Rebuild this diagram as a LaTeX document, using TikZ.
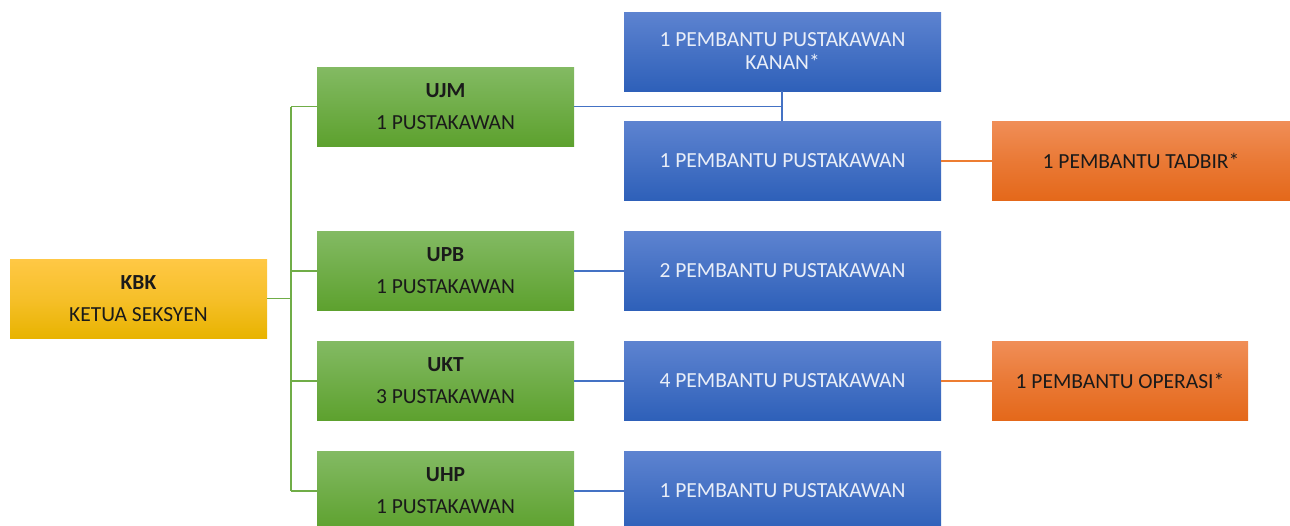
\documentclass[tikz,border=0pt]{standalone}
\usepackage{fontspec}
\setmainfont{Carlito}
\definecolor{gtop}{HTML}{83BA63}
\definecolor{gbot}{HTML}{5DA12E}
\definecolor{btop}{HTML}{5D83D0}
\definecolor{bbot}{HTML}{2E60B9}
\definecolor{otop}{HTML}{F08E57}
\definecolor{obot}{HTML}{E4681A}
\definecolor{ytop}{HTML}{FFC845}
\definecolor{ybot}{HTML}{E8B300}
\definecolor{gline}{HTML}{70AD47}
\definecolor{bline}{HTML}{4472C4}
\definecolor{oline}{HTML}{ED7D31}
\definecolor{dtext}{HTML}{1A1A1A}
\definecolor{ltext}{HTML}{E9EEF8}
\tikzset{
  box/.style={minimum width=257pt, minimum height=79pt, inner sep=0pt, align=center,
    font=\fontsize{21.5}{32}\selectfont},
  ybox/.style={box, top color=ytop, bottom color=ybot, middle color=ybot!40!ytop, text=dtext},
  gbox/.style={box, top color=gtop, bottom color=gbot, text=dtext},
  bbox/.style={box, minimum width=317pt, top color=btop, bottom color=bbot, text=ltext},
  obox/.style={box, top color=otop, bottom color=obot, middle color=obot!55!otop, text=dtext},
  gcon/.style={draw=gline, line width=1.5pt},
  bcon/.style={draw=bline, line width=1.5pt},
  ocon/.style={draw=oline, line width=1.5pt},
}
\begin{document}
\begin{tikzpicture}[x=1pt,y=-1pt]
\path[use as bounding box] (0,0) rectangle (1290,525);
\clip (0,0) rectangle (1290,525);
% boxes
\node[ybox] (kbk) at (138.5,298.5) {\textbf{KBK}\\KETUA SEKSYEN};
\node[gbox] (ujm) at (445.5,106.5) {\textbf{UJM}\\1 PUSTAKAWAN};
\node[gbox] (upb) at (445.5,271) {\textbf{UPB}\\1 PUSTAKAWAN};
\node[gbox] (ukt) at (445.5,381) {\textbf{UKT}\\3 PUSTAKAWAN};
\node[gbox] (uhp) at (445.5,491) {\textbf{UHP}\\1 PUSTAKAWAN};
\node[bbox, font=\fontsize{21.5}{23}\selectfont] (b1) at (782.5,51.5) {1 PEMBANTU PUSTAKAWAN\\KANAN*};
\node[bbox] (b2) at (782.5,161) {1 PEMBANTU PUSTAKAWAN};
\node[bbox] (b3) at (782.5,271) {2 PEMBANTU PUSTAKAWAN};
\node[bbox] (b4) at (782.5,381) {4 PEMBANTU PUSTAKAWAN};
\node[bbox] (b5) at (782.5,491) {1 PEMBANTU PUSTAKAWAN};
\node[obox, minimum width=298pt] (o1) at (1141,161) {1 PEMBANTU TADBIR*};
\node[obox, minimum width=256pt] (o2) at (1120,381) {1 PEMBANTU OPERASI*};
% green connectors
\coordinate (gx) at (291,0);
\draw[gcon] (kbk.east) -- (kbk.east -| gx);
\draw[gcon] (gx |- ujm.west) -- (gx |- uhp.west);
\draw[gcon] (gx |- ujm.west) -- (ujm.west);
\draw[gcon] (gx |- upb.west) -- (upb.west);
\draw[gcon] (gx |- ukt.west) -- (ukt.west);
\draw[gcon] (gx |- uhp.west) -- (uhp.west);
% blue connectors
\coordinate (bx) at (782,0);
\draw[bcon] (ujm.east) -- (ujm.east -| bx);
\draw[bcon] (b1.south -| bx) -- (b2.north -| bx);
\draw[bcon] (upb.east) -- (b3.west);
\draw[bcon] (ukt.east) -- (b4.west);
\draw[bcon] (uhp.east) -- (b5.west);
% orange connectors
\draw[ocon] (b2.east) -- (o1.west);
\draw[ocon] (b4.east) -- (o2.west);
\end{tikzpicture}
\end{document}
